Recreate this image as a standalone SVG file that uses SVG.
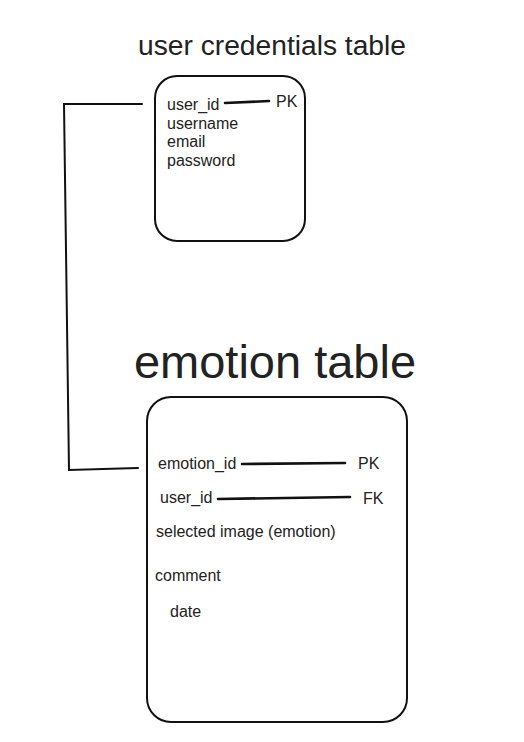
<svg xmlns="http://www.w3.org/2000/svg" width="524" height="742" viewBox="0 0 524 742">
<style>
text{font-family:"Liberation Sans",Arial,sans-serif;fill:#222}
.f{font-size:16px}
.box{fill:none;stroke:#111;stroke-width:2}
.ln{fill:none;stroke:#111;stroke-width:2;stroke-linecap:round}
.key{fill:none;stroke:#111;stroke-width:2.6;stroke-linecap:round}
</style>
<rect width="524" height="742" fill="#fff"/>
<g id="user_credentials">
<text x="272" y="55" font-size="27" text-anchor="middle" textLength="268" lengthAdjust="spacingAndGlyphs">user credentials table</text>
<rect class="box" x="155" y="76" width="150" height="165" rx="22"/>
<text class="f" x="167" y="110">user_id</text>
<path class="key" d="M225 103 L269 101"/>
<text class="f" x="276" y="107">PK</text>
<text class="f" x="167" y="129">username</text>
<text class="f" x="167" y="147">email</text>
<text class="f" x="167" y="166">password</text>
</g>
<g id="emotion">
<text x="275" y="378" font-size="47" text-anchor="middle">emotion table</text>
<rect class="box" x="147" y="397" width="260" height="325" rx="24"/>
<text class="f" x="158" y="469">emotion_id</text>
<path class="key" d="M242 464 L345 463"/>
<text class="f" x="358" y="469">PK</text>
<text class="f" x="160" y="503">user_id</text>
<path class="key" d="M218 499 L350 497"/>
<text class="f" x="363" y="504">FK</text>
<text class="f" x="156" y="537">selected image (emotion)</text>
<text class="f" x="155" y="581">comment</text>
<text class="f" x="170" y="617">date</text>
</g>
<g id="connectors">
<path class="ln" d="M142 104 L64 104 L69 470 L138 468"/>
</g>
</svg>
